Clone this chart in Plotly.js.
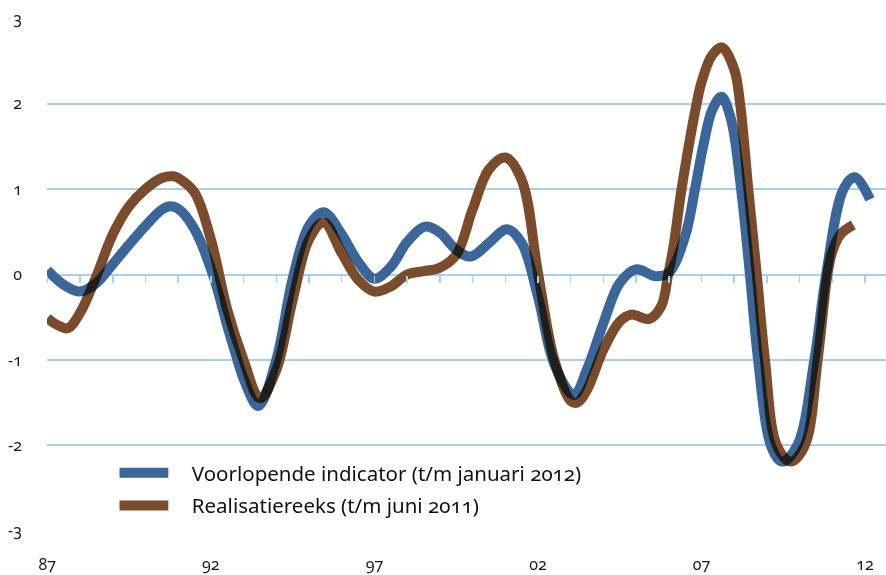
<!DOCTYPE html>
<html><head><meta charset="utf-8">
<script src="https://cdn.plot.ly/plotly-3.0.1.min.js"></script>
<style>
html,body{margin:0;padding:0;background:#fff;}
#chart{width:886px;height:575px;}
.scatterlayer .js-line{mix-blend-mode:multiply;}
.main-svg text{font-variant-numeric:oldstyle-nums !important;font-feature-settings:"onum" 1 !important;}
.legend .js-line{transform:scaleX(0.74);}
</style></head><body><div id="chart"></div>
<script>
// Voorlopende indicator (t/m januari 2012)
const indicatorYears = [1987.0,1987.5,1988.0,1988.5,1989.0,1989.5,1990.0,1990.5,1990.75,1991.0,1991.5,1992.06,1992.5,1992.75,1993.0,1993.45,1994.0,1994.5,1995.0,1995.45,1996.0,1996.5,1997.0,1997.5,1998.0,1998.55,1999.0,1999.5,1999.95,2000.5,2001.05,2001.5,2002.0,2002.5,2003.1,2003.5,2004.0,2004.5,2005.0,2005.6,2006.0,2006.5,2006.8,2007.05,2007.33,2007.61,2007.9,2008.21,2008.48,2008.73,2009.12,2009.46,2009.93,2010.45,2010.81,2011.34,2011.69,2012.15];
const indicatorValues = [0.05,-0.12,-0.20,-0.10,0.12,0.35,0.57,0.76,0.80,0.77,0.53,0.0,-0.6,-0.92,-1.22,-1.54,-1.0,-0.05,0.57,0.73,0.47,0.15,-0.05,0.09,0.38,0.56,0.49,0.29,0.21,0.37,0.53,0.37,-0.26,-1.05,-1.41,-1.11,-0.57,-0.10,0.06,-0.02,0.02,0.45,1.0,1.5,1.93,2.08,1.82,1.0,0.0,-1.0,-2.0,-2.19,-2.0,-1.0,0.0,1.0,1.14,0.88];
// Realisatiereeks (t/m juni 2011)
const realisatieYears = [1987.0,1987.3,1987.62,1988.0,1988.5,1989.0,1989.5,1990.0,1990.5,1990.85,1991.0,1991.5,1992.0,1992.5,1993.0,1993.5,1994.0,1994.5,1995.0,1995.45,1996.0,1996.5,1997.0,1997.5,1998.0,1998.5,1999.0,1999.5,2000.0,2000.5,2001.0,2001.5,2002.0,2002.5,2003.0,2003.2,2003.5,2004.0,2004.5,2004.85,2005.4,2005.77,2005.98,2006.14,2006.39,2006.85,2007.0,2007.31,2007.62,2008.0,2008.18,2008.43,2008.69,2008.94,2009.3,2009.72,2010.16,2010.55,2010.85,2011.0,2011.25,2011.64];
const realisatieValues = [-0.51,-0.59,-0.63,-0.45,-0.02,0.47,0.80,1.0,1.13,1.15,1.13,0.96,0.41,-0.41,-1.0,-1.45,-1.12,-0.3,0.41,0.61,0.25,-0.06,-0.2,-0.14,0.0,0.04,0.08,0.23,0.76,1.23,1.37,1.11,0.02,-1.0,-1.48,-1.5,-1.35,-0.88,-0.55,-0.47,-0.52,-0.37,0.0,0.32,1.0,2.0,2.25,2.56,2.66,2.4,2.0,1.0,0.0,-1.0,-2.0,-2.19,-2.0,-1.0,0.0,0.27,0.47,0.58];
const seriesNames = ['Voorlopende indicator (t/m januari 2012)','Realisatiereeks (t/m juni 2011)'];
const xTickVals = [1987,1992,1997,2002,2007,2012];
const xTickText = ['87','92','97','02','07','12'];
const minorTickYears = [1987,1988,1989,1990,1991,1992,1993,1994,1995,1996,1997,1998,1999,2000,2001,2002,2003,2004,2005,2006,2007,2008,2009,2010,2011,2012];
const yTickVals = [-3,-2,-1,0,1,2,3];
const yTickText = ['-3','-2','-1','0','1','2','3'];

const BLUE = '#3a6699', BROWN = '#7b4c2c', GRID = '#a5d1f1';
const FONT = 'Noto Sans, Lato, sans-serif';
const xRange = [1986.99, 2012.64];

const traces = [
  {x: indicatorYears, y: indicatorValues, name: seriesNames[0], type: 'scatter', mode: 'lines',
   line: {color: BLUE, width: 10, shape: 'spline', smoothing: 1}, legendgroup: 'a'},
  {x: realisatieYears, y: realisatieValues, name: seriesNames[1], type: 'scatter', mode: 'lines',
   line: {color: BROWN, width: 10, shape: 'spline', smoothing: 1}, legendgroup: 'b'},
  {x: [], y: [], xaxis: 'x2', yaxis: 'y', type: 'scatter', mode: 'lines', showlegend: false, hoverinfo: 'skip'}
];

const layout = {
  width: 886, height: 575,
  margin: {l: 47, r: 0, t: 18, b: 44},
  paper_bgcolor: '#fff', plot_bgcolor: '#fff',
  font: {family: FONT, size: 16, color: '#1a1a1a'},
  showlegend: true,
  legend: {x: 0.082, y: 0.152, xanchor: 'left', yanchor: 'top', bgcolor: 'rgba(0,0,0,0)',
           font: {family: FONT, size: 20.5, color: '#111'}, traceorder: 'grouped', tracegroupgap: 3, itemwidth: 66},
  xaxis: {range: xRange, showgrid: false, zeroline: false, showline: false,
          tickmode: 'array', tickvals: xTickVals, ticktext: xTickText, ticks: '', ticklabelstandoff: 22,
          tickfont: {family: FONT, size: 16, color: '#1a1a1a'}, fixedrange: true},
  xaxis2: {overlaying: 'x', range: xRange, anchor: 'free', position: 0.5, side: 'bottom',
           showgrid: false, zeroline: false, showline: false, showticklabels: false,
           tickmode: 'array', tickvals: minorTickYears, ticks: 'outside', ticklen: 7, tickwidth: 1.5, tickcolor: GRID},
  yaxis: {range: [-3.003, 3.003], tickmode: 'array', tickvals: yTickVals, ticktext: yTickText, showgrid: true, gridcolor: GRID, gridwidth: 2,
          zeroline: false, showline: false, ticks: '', ticklabelstandoff: 24,
          tickfont: {family: FONT, size: 16, color: '#1a1a1a'}, fixedrange: true}
};

Plotly.newPlot('chart', traces, layout, {displayModeBar: false, staticPlot: true});
</script></body></html>
